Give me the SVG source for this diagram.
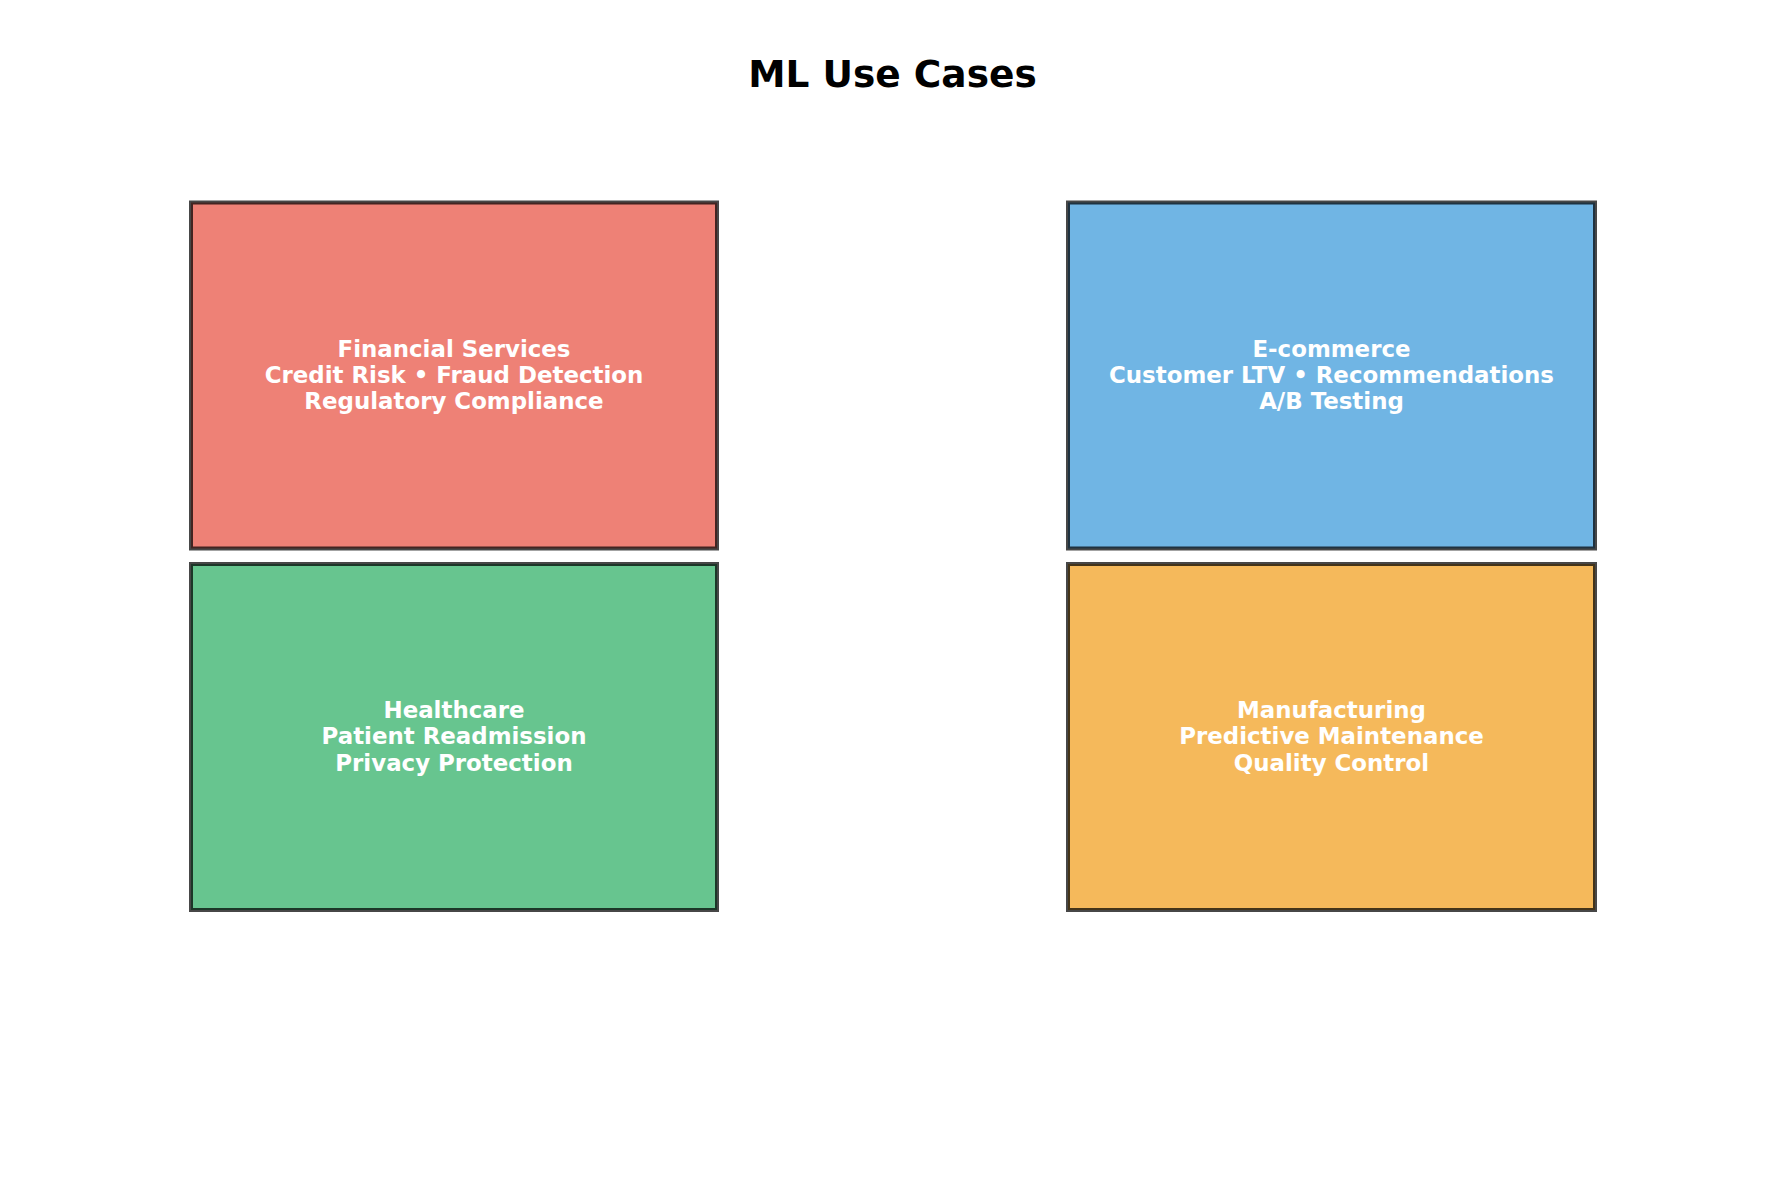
<svg xmlns="http://www.w3.org/2000/svg" width="1785" height="1185" viewBox="0 0 1785 1185">
<style>
.box{stroke:#000;stroke-opacity:0.72;stroke-width:4}
.lbl{font-family:"DejaVu Sans",sans-serif;font-weight:bold;font-size:22.9px;fill:#fff;text-anchor:middle}
.title{font-family:"DejaVu Sans",sans-serif;font-weight:bold;font-size:37.5px;fill:#000;text-anchor:middle}
</style>
<rect width="1785" height="1185" fill="#fff"/>
<text class="title" x="892.5" y="86.5">ML Use Cases</text>
<g id="connectors"></g>
<g id="financial">
<rect class="box" x="191" y="202.5" width="526" height="346" fill="#EE8176"/>
<text class="lbl"><tspan x="454" y="356.5">Financial Services</tspan><tspan x="454" y="382.8">Credit Risk • Fraud Detection</tspan><tspan x="454" y="409.1">Regulatory Compliance</tspan></text>
</g>
<g id="ecommerce">
<rect class="box" x="1068" y="202.5" width="527" height="346" fill="#70B5E4"/>
<text class="lbl"><tspan x="1331.5" y="356.5">E-commerce</tspan><tspan x="1331.5" y="382.8">Customer LTV • Recommendations</tspan><tspan x="1331.5" y="409.1">A/B Testing</tspan></text>
</g>
<g id="healthcare">
<rect class="box" x="191" y="564" width="526" height="346" fill="#67C58F"/>
<text class="lbl"><tspan x="454" y="718">Healthcare</tspan><tspan x="454" y="744.3">Patient Readmission</tspan><tspan x="454" y="770.6">Privacy Protection</tspan></text>
</g>
<g id="manufacturing">
<rect class="box" x="1068" y="564" width="527" height="346" fill="#F5B95B"/>
<text class="lbl"><tspan x="1331.5" y="718">Manufacturing</tspan><tspan x="1331.5" y="744.3">Predictive Maintenance</tspan><tspan x="1331.5" y="770.6">Quality Control</tspan></text>
</g>
</svg>
